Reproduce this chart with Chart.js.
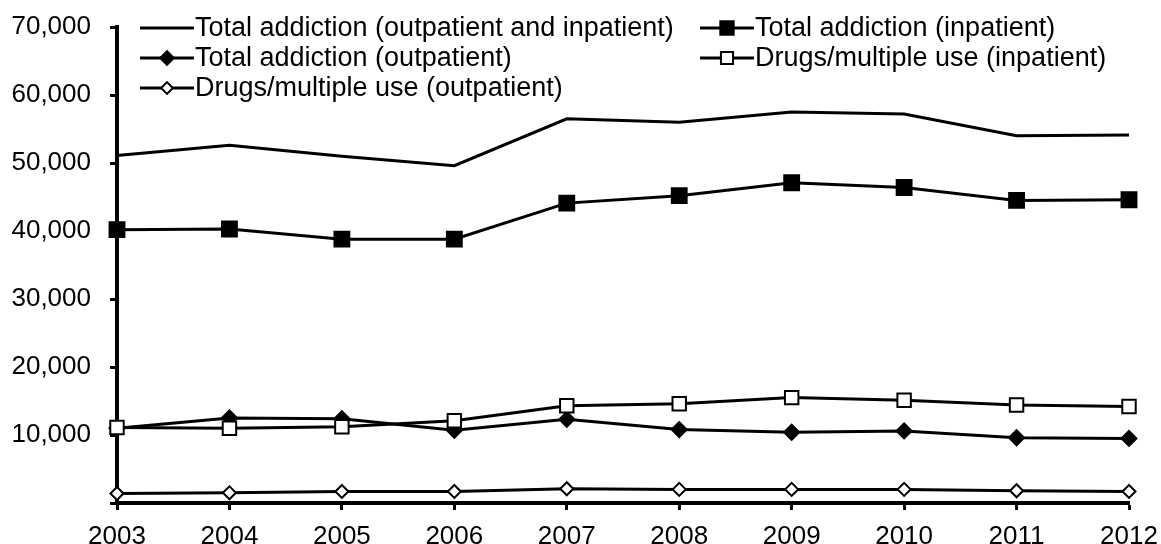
<!DOCTYPE html>
<html>
<head>
<meta charset="utf-8">
<script src="https://cdn.jsdelivr.net/npm/chart.js@4"></script>
<style>
  body { margin: 0; background: #fff; }
  #wrap { width: 1161px; height: 544px; }
</style>
</head>
<body>
<div id="wrap"><canvas id="addictionChart"></canvas></div>
<script>
const years = ["2003", "2004", "2005", "2006", "2007", "2008", "2009", "2010", "2011", "2012"];
const yTicks = [0, 10000, 20000, 30000, 40000, 50000, 60000, 70000];

const totalAll = [51100, 52600, 51000, 49600, 56500, 56000, 57500, 57200, 54000, 54100];
const totalInpatient = [40200, 40300, 38800, 38800, 44100, 45200, 47100, 46400, 44500, 44600];
const totalOutpatient = [11000, 12500, 12400, 10700, 12300, 10800, 10400, 10600, 9600, 9500];
const drugsInpatient = [11100, 11000, 11200, 12100, 14300, 14600, 15500, 15100, 14400, 14200];
const drugsOutpatient = [1400, 1500, 1700, 1700, 2100, 2000, 2000, 2000, 1800, 1700];

const FONT = '"Liberation Sans", Arial, sans-serif';

function series(label, data, style, fill, radius, order) {
    return {
        label, data, order,
        borderColor: "#000",
        borderWidth: 3,
        tension: 0,
        pointStyle: style,
        pointRadius: style ? radius : 0,
        pointHoverRadius: style ? radius : 0,
        pointBackgroundColor: fill,
        pointBorderColor: "#000",
        pointBorderWidth: 2
    };
}

function marker(ctx, style, x, y, r, fill) {
    if (!style) return;
    ctx.beginPath();
    if (style === "rect") {
        const s = Math.SQRT1_2 * r;
        ctx.rect(x - s, y - s, 2 * s, 2 * s);
    } else {
        ctx.moveTo(x - r, y);
        ctx.lineTo(x, y - r);
        ctx.lineTo(x + r, y);
        ctx.lineTo(x, y + r);
        ctx.closePath();
    }
    ctx.fillStyle = fill;
    ctx.fill();
    ctx.lineWidth = 2;
    ctx.strokeStyle = "#000";
    ctx.stroke();
}

// legend drawn inside the plot, two columns like the original
const insideLegend = {
    id: "insideLegend",
    afterDraw(chart) {
        const ctx = chart.ctx;
        const cols = [140, 700];
        const rows = [28, 58, 88];
        ctx.save();
        chart.data.datasets.forEach((ds, i) => {
            const x = cols[i % 2];
            const y = rows[Math.floor(i / 2)];
            ctx.beginPath();
            ctx.moveTo(x, y);
            ctx.lineTo(x + 54, y);
            ctx.lineWidth = 3;
            ctx.strokeStyle = "#000";
            ctx.stroke();
            marker(ctx, ds.pointStyle, x + 27, y, ds.pointRadius * 0.9, ds.pointBackgroundColor);
            ctx.fillStyle = "#000";
            ctx.font = "27px " + FONT;
            ctx.textBaseline = "middle";
            ctx.textAlign = "left";
            ctx.fillText(ds.label, x + 55, y + 1);
        });
        ctx.restore();
    }
};

new Chart(document.getElementById("addictionChart"), {
    type: "line",
    data: {
        labels: years,
        datasets: [
            series("Total addiction (outpatient and inpatient)", totalAll, false, "#000", 0, 4),
            series("Total addiction (inpatient)", totalInpatient, "rect", "#000", 10.5, 3),
            series("Total addiction (outpatient)", totalOutpatient, "rectRot", "#000", 7.5, 2),
            series("Drugs/multiple use (inpatient)", drugsInpatient, "rect", "#fff", 9.5, 1),
            series("Drugs/multiple use (outpatient)", drugsOutpatient, "rectRot", "#fff", 6.5, 0)
        ]
    },
    options: {
        responsive: true,
        maintainAspectRatio: false,
        animation: false,
        layout: { autoPadding: false, padding: { top: 27, right: 32, left: 0, bottom: 0 } },
        plugins: {
            legend: { display: false },
            tooltip: { enabled: false }
        },
        scales: {
            x: {
                offset: false,
                afterFit: s => { s.height = 41; s.paddingLeft = 0; s.paddingRight = 0; },
                grid: { drawOnChartArea: false, offset: false, tickLength: 7, tickWidth: 3, tickColor: "#000" },
                border: { color: "#000", width: 4 },
                ticks: { color: "#000", font: { size: 26, family: FONT }, padding: 11, maxRotation: 0, autoSkip: false }
            },
            y: {
                min: yTicks[0],
                max: yTicks[yTicks.length - 1],
                afterFit: s => { s.width = 117; s.paddingTop = 0; s.paddingBottom = 0; },
                afterBuildTicks: s => { s.ticks = yTicks.map(v => ({ value: v })); },
                grid: { drawOnChartArea: false, tickLength: 7, tickWidth: 3, tickColor: "#000" },
                border: { color: "#000", width: 4 },
                ticks: {
                    color: "#000",
                    font: { size: 26, family: FONT },
                    padding: 19,
                    callback: v => v === 0 ? "" : v.toLocaleString("en-US")
                }
            }
        }
    },
    plugins: [insideLegend]
});
</script>
</body>
</html>
